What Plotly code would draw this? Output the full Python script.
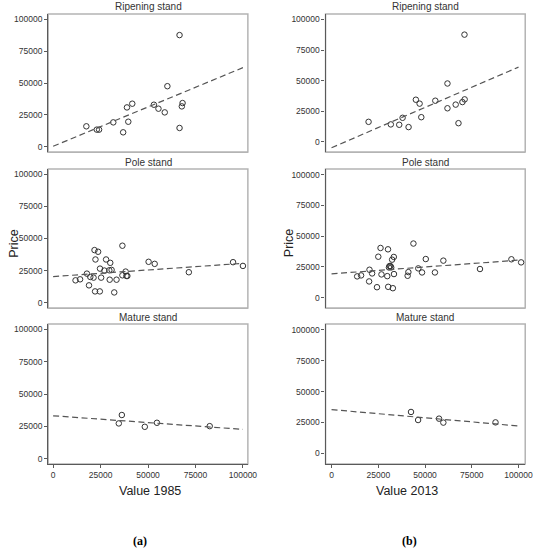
import plotly.graph_objects as go

# ---- datos ----
panel_titles = ["Ripening stand", "Pole stand", "Mature stand"]

# (a) Value 1985
rip85_x = [17500, 23000, 24200, 31700, 36900, 38900, 39600, 41700, 53100, 55500,
           58800, 60200, 66600, 66600, 68200, 67800]
rip85_y = [16100, 13500, 13500, 19200, 11400, 30900, 19700, 33800, 33000, 29900,
           27000, 47500, 87500, 14800, 34300, 31700]
pole85_x = [11800, 14200, 17800, 18900, 19600, 21300, 21800, 22300, 22100, 23700,
            24600, 24700, 25300, 27000, 27900, 29600, 30100, 29800, 30800, 32200,
            33400, 36500, 36500, 38200, 38600, 39100, 50300, 53500, 71500, 94800,
            100000]
pole85_y = [17500, 18300, 22700, 13600, 20100, 19600, 41000, 33700, 8900, 39700,
            8900, 26600, 19600, 25100, 33700, 25300, 31100, 18000, 25600, 8100,
            18000, 44400, 21400, 24300, 20900, 20900, 31900, 30300, 23800, 31600,
            28700]
mat85_x = [34600, 36200, 48300, 54700, 82500]
mat85_y = [27300, 33800, 24700, 27800, 25200]

# (b) Value 2013
rip13_x = [19800, 31700, 36200, 38000, 41200, 45100, 47100, 48000, 55500, 62000,
           62000, 66400, 67900, 70000, 71200, 71100]
rip13_y = [16200, 14100, 13800, 19500, 11900, 34300, 31100, 20000, 33500, 47600,
           27300, 30300, 15100, 32400, 34600, 87600]
pole13_x = [13700, 15800, 20100, 20300, 21700, 24300, 25000, 26200, 26700, 29800,
            30200, 30300, 30700, 31000, 31500, 31900, 32400, 32800, 33300, 33400,
            40700, 41100, 43800, 46400, 48400, 50400, 55300, 59800, 79400, 96200,
            101400]
pole13_y = [17200, 18000, 13100, 22600, 19600, 8400, 33200, 40300, 18800, 17400,
            39200, 8700, 24500, 25600, 25600, 24500, 30800, 7600, 33000, 19100,
            17700, 20700, 43900, 23700, 20400, 31300, 20400, 30000, 23200, 31100,
            28600]
mat13_x = [42500, 46300, 57500, 59800, 87700]
mat13_y = [33500, 27000, 28100, 24900, 25100]

# rectas ajustadas (extremos en x = 0 y x = 100000)
fit_x = [0, 100000]
fit85_y = [[500, 62000], [20400, 30700], [33200, 22700]]
fit13_y = [[-5000, 61000], [19300, 30400], [35400, 22200]]

x_ticks = [0, 25000, 50000, 75000, 100000]
y_ticks = [0, 25000, 50000, 75000, 100000]
tick_labels = ["0", "25000", "50000", "75000", "100000"]

W, H = 548, 550

def fx(p):
    return p / W

def fy(p):
    return 1 - p / H

fig = go.Figure()

# posiciones de los paneles en pixeles: (izq, der) y (arriba, abajo)
cols = [(49, 252), (331, 534)]
rows = [(14, 152), (169, 308), (324, 464)]
xranges = [[-2600, 102600], [-3200, 103600]]
yranges = [[-4000, 104000], [-8500, 104500]]

datos = [
    [(rip85_x, rip85_y), (pole85_x, pole85_y), (mat85_x, mat85_y)],
    [(rip13_x, rip13_y), (pole13_x, pole13_y), (mat13_x, mat13_y)],
]
fits = [fit85_y, fit13_y]

gris = "#b4b4b4"
oscuro = "#5a5a5a"
fuente = "Liberation Sans"

n = 0
for c in range(2):
    for r in range(3):
        n += 1
        xa = "x" if n == 1 else f"x{n}"
        ya = "y" if n == 1 else f"y{n}"
        px_, py_ = datos[c][r]
        fig.add_trace(go.Scatter(
            x=px_, y=py_, mode="markers", xaxis=xa, yaxis=ya,
            marker=dict(symbol="circle-open", size=5.5, color="#333333",
                        line=dict(width=1.0)),
            showlegend=False, hoverinfo="skip"))
        fig.add_trace(go.Scatter(
            x=fit_x, y=fits[c][r], mode="lines", xaxis=xa, yaxis=ya,
            line=dict(color="#555555", width=1.2, dash="6px,3.5px"),
            showlegend=False, hoverinfo="skip"))

        x0, x1 = cols[c]
        y0, y1 = rows[r]
        ultimo = (r == 2)
        xkey = "xaxis" if n == 1 else f"xaxis{n}"
        ykey = "yaxis" if n == 1 else f"yaxis{n}"
        fig.update_layout({
            xkey: dict(
                domain=[fx(x0), fx(x1)], anchor=ya, range=xranges[c],
                showgrid=False, zeroline=False,
                showline=True, linecolor=oscuro if ultimo else gris, linewidth=1.2,
                tickvals=x_ticks if ultimo else [],
                ticktext=tick_labels if ultimo else [],
                ticks="outside" if ultimo else "", ticklen=3, tickcolor=oscuro,
                showticklabels=ultimo,
                tickfont=dict(family=fuente, size=8.5, color="#333333"),
            ),
            ykey: dict(
                domain=[fy(y1), fy(y0)], anchor=xa, range=yranges[c],
                showgrid=False, zeroline=False,
                showline=True, linecolor=oscuro, linewidth=1.2,
                tickvals=y_ticks, ticktext=tick_labels,
                ticks="outside", ticklen=3, tickcolor=oscuro,
                tickfont=dict(family=fuente, size=8.5, color="#333333"),
            ),
        })
        # marco gris del panel
        fig.add_shape(type="rect", xref="paper", yref="paper",
                      x0=fx(x0), x1=fx(x1), y0=fy(y1), y1=fy(y0),
                      line=dict(color=gris, width=1.5), layer="below")
        # titulo del panel
        fig.add_annotation(text=panel_titles[r], xref="paper", yref="paper",
                           x=fx((x0 + x1) / 2), y=fy(y0 - 7),
                           showarrow=False, xanchor="center", yanchor="middle",
                           font=dict(family=fuente, size=10, color="#333333"))

# etiquetas de ejes
for xc, txt in [(152, "Value 1985"), (414, "Value 2013")]:
    fig.add_annotation(text=txt, xref="paper", yref="paper", x=fx(xc), y=fy(491),
                       showarrow=False, xanchor="center", yanchor="middle",
                       font=dict(family=fuente, size=12.5, color="#222222"))
for xc in [14, 294]:
    fig.add_annotation(text="Price", xref="paper", yref="paper", x=fx(xc), y=fy(243),
                       showarrow=False, textangle=-90, xanchor="center", yanchor="middle",
                       font=dict(family=fuente, size=12.5, color="#222222"))
for xc, txt in [(142, "(a)"), (416, "(b)")]:
    fig.add_annotation(text=f"<b>{txt}</b>", xref="paper", yref="paper", x=fx(xc),
                       y=fy(541), showarrow=False, xanchor="center", yanchor="middle",
                       font=dict(family="Liberation Serif", size=12, color="#000000"))

fig.update_layout(width=W, height=H, margin=dict(l=0, r=0, t=0, b=0),
                  paper_bgcolor="white", plot_bgcolor="white")

# quitar el margen por defecto del body para que la figura quede en (0, 0)
fig.write_html("out.html", config={"displayModeBar": False},
               post_script="document.body.style.margin = '0px';")
